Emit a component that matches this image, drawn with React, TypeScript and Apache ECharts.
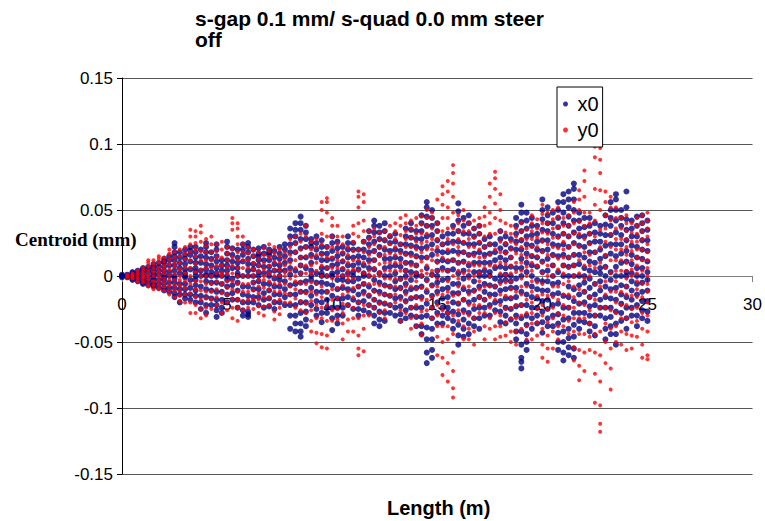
import React, { useEffect, useRef } from "react";
import * as echarts from "echarts";

const titleText = "s-gap 0.1 mm/ s-quad 0.0 mm steer\noff";
const yTickLabels = ["-0.15", "-0.1", "-0.05", "0", "0.05", "0.1", "0.15"];
const xTickLabels = ["0", "5", "10", "15", "20", "25", "30"];

// Column positions along the beamline (m)
const x0Positions = [
  0, 0.5, 1, 1.5, 2, 2.5, 3, 3.5, 4, 4.5, 5, 5.5, 6, 6.5, 7, 7.5, 8, 8.5, 9, 9.5,
  10, 10.5, 11, 11.5, 12, 12.5, 13, 13.5, 14, 14.5, 15, 15.5, 16, 16.5, 17, 17.5,
  18, 18.5, 19, 19.5, 20, 20.5, 21, 21.5, 22, 22.5, 23, 23.5, 24, 24.5, 25,
];
const x0PositionsB = [
  0.25, 0.75, 1.25, 1.75, 2.25, 2.75, 3.25, 3.75, 4.25, 4.75, 5.25, 5.75, 6.25,
  6.75, 7.25, 7.75, 8.25, 8.75, 9.25, 9.75, 10.25, 10.75, 11.25, 11.75, 12.25,
  12.75, 13.25, 13.75, 14.25, 14.75, 15.25, 15.75, 16.25, 16.75, 17.25, 17.75,
  18.25, 18.75, 19.25, 19.75, 20.25, 20.75, 21.25, 21.75, 22.25, 22.75, 23.25,
  23.75, 24.25, 24.75,
];
const y0Positions = x0PositionsB;
const y0PositionsB = [
  0.5, 1, 1.5, 2, 2.5, 3, 3.5, 4, 4.5, 5, 5.5, 6, 6.5, 7, 7.5, 8, 8.5, 9, 9.5,
  10, 10.5, 11, 11.5, 12, 12.5, 13, 13.5, 14, 14.5, 15, 15.5, 16, 16.5, 17, 17.5,
  18, 18.5, 19, 19.5, 20, 20.5, 21, 21.5, 22, 22.5, 23, 23.5, 24, 24.5, 25,
];

// Centroid values per column, in thousandths of a mm
const x0Milli = [
  [0, 1, -1, 0],
  [3, -3, 1, -1, 0, 2, -2],
  [6, -6, 4, -4, 2, -2, 0, 5, -5],
  [9, -8, 6, -6, 3, -3, 1, -1, 7, -7],
  [13, -11, 10, -9, 7, -6, 4, -3, 1, -1, 11],
  [25, 22, -16, 18, -13, 12, -9, 8, -5, 4, -2, 0, 15],
  [20, 16, -17, 13, -14, 9, -10, 5, -6, 2, -1, 0],
  [18, 14, -20, 10, -15, 6, -11, 3, -7, 0, -3, 22],
  [25, 22, 18, -28, 14, -22, 9, -16, 5, -10, 1, -4, 0],
  [24, 20, 15, -31, 11, -26, 6, -18, 2, -12, -5, 0, -22],
  [22, 17, 12, -20, 8, -14, 4, -8, 0, -3, 26],
  [14, 10, -24, 6, -18, 2, -11, -5, 0, 20],
  [25, 22, 18, -31, 13, -27, 9, -20, 4, -15, 0, -8, -29],
  [21, 17, -22, 12, -16, 8, -10, 3, -4, 0, 15],
  [20, 16, -23, 12, -17, 7, -11, 3, -6, 0, 18],
  [22, 17, -20, 13, -14, 8, -8, 4, -3, 0],
  [30, 24, -30, 18, -22, 12, -14, 6, -7, 1, 36, -40],
  [45, 40, 35, -46, 28, -42, 21, -36, 14, -28, 8, -20, 2, -12, -5],
  [28, 22, -22, 16, -15, 10, -9, 4, -3, 0, 25],
  [27, 22, 17, -35, 12, -28, 6, -20, 2, -12, -5, 0],
  [30, 25, 19, -41, 13, -32, 8, -24, 2, -15, -7, 0],
  [22, 17, -30, 11, -24, 5, -17, 0, -9, -3],
  [25, 20, 14, -25, 8, -18, 3, -11, -4, 0],
  [26, 20, -26, 14, -19, 8, -12, 2, -6, 0],
  [42, 38, 33, -36, 26, -30, 19, -24, 12, -18, 5, -11, -3],
  [40, 34, -34, 27, -28, 20, -21, 13, -14, 6, -7, 0],
  [32, 26, -30, 20, -24, 14, -17, 8, -10, 2, -4],
  [36, 30, -32, 24, -26, 17, -19, 10, -12, 4, -6, 0],
  [34, 28, -38, 22, -31, 15, -24, 8, -16, 2, -9, 0],
  [56, 52, 45, -66, 38, -58, 30, -48, 22, -39, 14, -30, 6, -21, -12, -3],
  [40, 34, -36, 27, -28, 19, -20, 11, -12, 4, -5, 0],
  [32, 25, -32, 18, -24, 11, -16, 4, -9, -2, -28],
  [55, 49, 42, -52, 34, -45, 26, -37, 18, -29, 10, -21, 2, -13, -6],
  [46, 40, -44, 32, -36, 24, -28, 16, -20, 8, -12, 0],
  [38, 32, -40, 25, -32, 18, -24, 10, -16, 3, -8, 0],
  [30, 24, -30, 17, -22, 10, -14, 3, -7, 0],
  [34, 28, -35, 21, -27, 14, -19, 7, -11, 0, -4],
  [28, 21, -33, 14, -25, 7, -17, 0, -9, -4],
  [54, 48, 41, -70, 34, -62, 27, -52, 20, -42, 13, -32, 6, -22, -12, 0, -65],
  [44, 38, -40, 31, -32, 23, -24, 15, -16, 8, -8, 0],
  [58, 50, 43, -43, 35, -35, 27, -27, 19, -19, 11, -11, 3, -4],
  [48, 40, -38, 32, -30, 24, -22, 16, -14, 8, -6, 0],
  [62, 56, 48, -64, 40, -58, 32, -50, 24, -42, 16, -33, 8, -24, 0, -15],
  [70, 66, 58, -62, 50, -55, 42, -46, 33, -37, 25, -28, 16, -19, 8, -10, 0],
  [44, 37, -35, 30, -28, 22, -20, 14, -12, 6, -5, 0],
  [40, 33, -45, 26, -38, 18, -30, 10, -22, 3, -14, -6],
  [46, 39, -48, 31, -40, 23, -32, 15, -24, 7, -16, 0, -8],
  [62, 58, 50, -52, 42, -44, 33, -36, 24, -27, 15, -18, 7, -9, 0],
  [64, 52, 43, -40, 35, -32, 27, -24, 19, -16, 11, -8, 3, 0],
  [45, 38, -38, 30, -30, 22, -22, 14, -14, 6, -6, 0],
  [42, 35, -34, 27, -27, 19, -19, 11, -11, 3, -3],
];

const x0MilliB = [
  [0, 1, -1],
  [4, -4, 2, -2, 0],
  [7, -7, 5, -5, 3, -3, 0],
  [10, -9, 7, -6, 4, -3, 1],
  [15, -12, 12, -9, 8, -5, 3, 0],
  [18, 14, -14, 10, -10, 6, -6, 2, -20],
  [22, 19, 16, -18, -14, 11, -9, 5, -3],
  [20, 15, 10, -25, -20, -15, 4, -8, 0],
  [18, 13, 8, -22, -17, -11, 3, -5, 0],
  [12, 8, 4, -28, -24, -18, -12, -6, 0],
  [21, 16, 11, 6, -18, -13, -7, -2],
  [24, 20, 16, 11, -30, -26, -20, -14, -8, 0],
  [20, 15, 9, 5, -20, -16, -10, -5, 0],
  [22, 17, 12, 7, -24, -18, -13, -6, 2],
  [19, 14, 9, 4, -25, -20, -14, -8, -2],
  [24, 20, 15, 10, -22, -16, -10, -4, 4],
  [40, 35, 30, 25, 18, -42, -36, -30, -22, -14, -6, 4],
  [38, 33, 28, 22, 14, -38, -33, -27, -20, -12, -4, 6],
  [30, 25, 20, 14, -30, -25, -19, -12, -5, 2],
  [22, 17, 12, 6, -28, -24, -18, -12, -6, 0],
  [26, 21, 15, 9, -36, -30, -24, -17, -10, -3, 3],
  [30, 25, 20, 14, 8, -22, -16, -10, -4, 2],
  [20, 15, 10, 5, -30, -25, -20, -14, -8, -2],
  [34, 29, 24, 18, 12, 6, -28, -22, -15, -8, 0],
  [38, 33, 28, 22, 16, -38, -33, -27, -20, -12, -5, 2],
  [30, 25, 19, 13, 7, -28, -22, -15, -8, 0],
  [24, 19, 13, 7, -34, -29, -23, -16, -9, -2],
  [40, 35, 29, 23, 17, 10, -30, -24, -17, -10, -3, 3],
  [46, 40, 34, 28, 21, 14, -44, -38, -31, -24, -16, -8, 0],
  [50, 44, 38, 31, 24, 16, -62, -56, -48, -40, -32, -24, -15, -7, 1],
  [30, 24, 18, 12, 6, -36, -30, -24, -17, -10, -3],
  [38, 32, 26, 19, 12, 5, -40, -34, -27, -20, -13, -6],
  [44, 38, 32, 25, 18, 11, -46, -40, -33, -26, -18, -10, -2, 4],
  [36, 30, 24, 17, 10, -38, -32, -25, -18, -11, -4, 3],
  [28, 22, 16, 10, 4, -30, -24, -18, -12, -6, 0],
  [24, 18, 12, 6, -26, -20, -14, -8, -2],
  [30, 24, 18, 12, 6, -36, -30, -24, -17, -10, -3, 1],
  [44, 38, 32, 26, 20, -48, -42, -36, -30, -23, -16, -9, -2, 6],
  [48, 42, 36, 30, 24, 17, -56, -50, -44, -37, -30, -22, -14, -6, 3, 10],
  [38, 32, 26, 20, 14, 7, -36, -30, -24, -17, -10, -3],
  [52, 46, 40, 34, 27, 20, 13, -38, -32, -25, -18, -11, -4, 4],
  [56, 50, 44, 37, 30, 23, 15, -56, -50, -43, -36, -29, -21, -13, -5, 3],
  [64, 58, 52, 45, 38, 30, 22, 14, -60, -54, -47, -40, -32, -24, -16, -8, 0, 7],
  [48, 42, 36, 30, 23, 16, 9, -40, -34, -28, -21, -14, -7, 0],
  [44, 38, 32, 25, 18, 11, -42, -36, -30, -23, -16, -9, -2, 4],
  [38, 32, 26, 20, 13, 6, -30, -24, -18, -11, -4, 2],
  [56, 50, 44, 38, 31, 24, 17, -44, -38, -31, -24, -17, -10, -3, 3],
  [50, 44, 38, 31, 24, 17, 10, -34, -28, -21, -14, -7, 0],
  [42, 36, 30, 23, 16, 9, -30, -24, -18, -11, -4, 2],
  [46, 40, 34, 27, 20, 13, 6, -32, -26, -19, -12, -5, 0],
];

const y0Milli = [
  [0, 1, -1],
  [4, -4, 2, -2, 0],
  [10, -8, 7, -6, 4, -3, 1, -1, 12],
  [13, -10, 10, -7, 6, -4, 3, -1, 0, 15],
  [17, -14, 13, -11, 9, -7, 5, -3, 1, 20],
  [20, -15, 15, -11, 10, -7, 5, -3, 0, -19],
  [30, 24, -28, 18, -20, 12, -13, 6, -6, 0, 35],
  [38, 33, -32, 26, -25, 19, -18, 12, -11, 5, -4, 0],
  [30, 24, -25, 18, -18, 12, -12, 6, -6, 0],
  [26, 20, -28, 14, -20, 8, -13, 2, -6, 0],
  [44, 40, 35, -32, 20, -24, 14, -17, 8, -10, 2, -4],
  [24, 18, -26, 12, -19, 6, -12, 0, -6, 30],
  [20, 15, -25, 10, -18, 5, -11, 0, -5],
  [21, 16, -30, 10, -23, 5, -16, 0, -9, -3],
  [22, 17, -27, 11, -19, 5, -12, 0, -6, -33],
  [18, 13, -20, 8, -13, 3, -6, 0],
  [30, 24, -24, 18, -17, 12, -10, 6, -4, 0],
  [38, 30, -28, 22, -21, 15, -13, 8, -6, 2],
  [28, 22, -43, 16, -32, 10, -22, 4, -14, -6, -51],
  [59, 56, 48, -55, 30, -45, 22, -34, 14, -22, 6, -12, 0],
  [30, 24, -33, 18, -25, 12, -17, 6, -9, 0, 38],
  [22, 16, -42, 10, -33, 4, -22, -3, -12, 0],
  [64, 60, 52, -60, 40, -55, 30, -45, 20, -32, 12, -20, 4, -8],
  [34, 28, -30, 22, -22, 16, -14, 10, -6, 4, 0],
  [33, 27, -28, 21, -21, 15, -14, 9, -7, 3, 0],
  [38, 31, -22, 24, -15, 17, -8, 10, -2, 4],
  [44, 38, -34, 31, -26, 24, -18, 17, -10, 10, -3, 4],
  [42, 36, -40, 29, -32, 22, -24, 15, -16, 8, -8, 1],
  [45, 39, -45, 32, -36, 25, -27, 18, -18, 11, -9, 4, 0],
  [48, 44, -32, 36, -24, 28, -16, 20, -8, 12, 0, 4],
  [68, 62, 54, -75, 44, -62, 34, -50, 24, -38, 14, -26, 4, -14],
  [84, 78, 70, -92, 60, -85, 48, -72, 36, -58, 24, -44, 12, -30, 0, -15],
  [50, 42, -48, 34, -38, 26, -28, 18, -18, 10, -8, 2],
  [42, 36, -52, 29, -42, 22, -32, 15, -22, 8, -12, 0],
  [52, 45, -48, 38, -38, 30, -28, 22, -18, 14, -8, 6],
  [79, 74, 66, -48, 55, -38, 44, -28, 32, -18, 20, -8, 8],
  [40, 33, -45, 25, -35, 17, -25, 9, -15, 1, -5],
  [36, 30, -52, 24, -42, 17, -32, 10, -22, 3, -12],
  [35, 28, -48, 21, -38, 14, -28, 7, -18, 0, -8],
  [43, 36, -45, 29, -35, 22, -25, 15, -15, 8, -5],
  [48, 40, -65, 32, -55, 24, -45, 16, -35, 8, -25, 0, -15],
  [52, 45, -48, 37, -38, 29, -28, 21, -18, 13, -8, 5],
  [46, 38, -44, 30, -34, 22, -24, 14, -14, 6, -4],
  [65, 58, -79, 50, -68, 41, -56, 32, -44, 22, -32, 12, -20, 2, -10],
  [48, 40, -56, 32, -46, 24, -36, 16, -26, 8, -16, 0],
  [100, 97, 88, -118, 78, -112, 65, -98, 50, -80, 35, -60, 22, -42, 10, -24, -8],
  [60, 52, -86, 42, -70, 32, -55, 22, -40, 12, -26, 2, -12],
  [44, 36, -52, 28, -42, 20, -32, 12, -22, 4, -12],
  [40, 33, -55, 26, -45, 19, -35, 12, -25, 5, -15, 0],
  [46, 40, -62, 34, -52, 28, -40, 20, -28, 12, -16, 4, -6],
];

const y0MilliB = [
  [2, -2, 0, 1, -1],
  [6, -5, 4, -3, 2, -1, 0],
  [12, 9, 6, 3, -4, -7, -10, 0],
  [14, 11, 8, 5, 2, -2, -5, -8, -11],
  [18, 14, 10, 7, 2, -3, -7, -11, -16],
  [22, 17, 13, 7, 2, -4, -9, -14, -20],
  [34, 30, 25, 20, 15, 9, 3, -4, -10, -16, -22, -28],
  [28, 23, 18, 12, 6, 0, -6, -12, -17, -24, -30],
  [24, 19, 14, 8, 2, -4, -10, -16, -22],
  [22, 17, 12, 7, 2, -4, -9, -14, -20, -26],
  [40, 36, 30, 24, 18, 12, 6, 0, -6, -12, -18, -24, -34],
  [22, 17, 12, 6, 0, -6, -12, -18, -24],
  [18, 13, 8, 3, -3, -8, -13, -18, -23, -28],
  [24, 19, 14, 8, 2, -4, -10, -16, -22],
  [20, 15, 10, 5, 0, -6, -12, -18, -24, -29],
  [28, 22, 16, 10, 4, -2, -8, -14, -20],
  [32, 26, 20, 14, 8, 2, -5, -12, -19, -26],
  [26, 20, 14, 8, 2, -5, -12, -19, -26, -34, -42],
  [56, 50, 42, 32, 24, 16, 8, 0, -8, -16, -24, -32, -44, -54],
  [44, 38, 30, 22, 14, 6, -2, -10, -18, -26, -34],
  [30, 24, 18, 12, 6, 0, -7, -14, -21, -28, -36, -48],
  [38, 32, 26, 19, 12, 5, -2, -9, -16, -24, -32, -42],
  [62, 56, 42, 34, 26, 18, 10, 2, -6, -14, -22, -30, -40, -57],
  [36, 30, 24, 18, 12, 6, 0, -6, -12, -18, -24],
  [34, 28, 22, 16, 10, 4, -2, -8, -14, -20, -26, -32],
  [40, 34, 28, 22, 16, 10, 4, -2, -8, -14, -20],
  [46, 40, 34, 28, 22, 16, 10, 4, -2, -8, -14, -20, -28],
  [44, 38, 32, 26, 20, 14, 8, 2, -4, -10, -16, -22, -30, -38],
  [50, 44, 38, 32, 26, 20, 14, 8, 2, -4, -10, -18, -26],
  [58, 40, 34, 28, 22, 16, 10, 4, -2, -8, -14, -22, -30, -38, -46, -60],
  [72, 64, 52, 44, 36, 28, 20, 12, 4, -4, -12, -20, -28, -38, -48, -66, -80],
  [46, 40, 34, 28, 22, 16, 10, 4, -2, -8, -14, -20, -26, -34],
  [40, 34, 28, 22, 16, 10, 4, -2, -8, -14, -22, -30, -40, -48],
  [44, 38, 32, 26, 20, 14, 8, 2, -4, -10, -16, -22, -28],
  [70, 60, 48, 40, 32, 24, 16, 8, 0, -8, -16, -24, -32, -40],
  [62, 50, 42, 34, 26, 18, 10, 2, -6, -14, -22, -30, -38, -46],
  [38, 32, 26, 20, 14, 8, 2, -4, -10, -16, -24, -32, -42, -50],
  [40, 34, 28, 22, 16, 10, 4, -2, -8, -14, -22, -30, -40],
  [46, 40, 34, 28, 22, 16, 10, 4, -4, -12, -20, -28, -36, -48],
  [54, 47, 40, 33, 26, 18, 10, 2, -6, -14, -22, -30, -40, -52, -62],
  [50, 43, 36, 29, 22, 15, 8, 0, -8, -16, -24, -32, -42, -55],
  [44, 38, 32, 26, 20, 14, 8, 2, -6, -14, -22, -30, -38],
  [56, 48, 40, 32, 24, 16, 8, 0, -8, -16, -24, -32, -42, -54, -64],
  [80, 72, 60, 48, 38, 28, 18, 8, -2, -12, -22, -32, -44, -58, -72],
  [98, 90, 66, 54, 42, 30, 18, 6, -6, -18, -30, -44, -58, -74, -96],
  [64, 56, 46, 36, 26, 16, 6, -4, -14, -24, -36, -50, -66],
  [52, 44, 36, 28, 20, 12, 4, -4, -12, -20, -28, -38, -50],
  [46, 40, 34, 28, 22, 16, 10, 4, -2, -8, -14, -22, -32, -44, -56],
  [44, 38, 32, 26, 20, 14, 8, 2, -4, -10, -16, -24, -34, -46],
  [48, 42, 36, 30, 24, 18, 12, 6, 0, -6, -12, -20, -30, -42, -60, -63],
];

function toPoints(positions: number[], cols: number[][]): number[][] {
  const pts: number[][] = [];
  cols.forEach((col, i) => {
    col.forEach((v) => pts.push([positions[i], v / 1000]));
  });
  return pts;
}

export default function App() {
  const ref = useRef<HTMLDivElement>(null);
  useEffect(() => {
    if (!ref.current) return;
    const chart = echarts.init(ref.current, null, { renderer: "svg" });
    const sans = "Arial, 'Liberation Sans', sans-serif";
    chart.setOption({
      animation: false,
      backgroundColor: "#ffffff",
      title: {
        text: titleText,
        left: 195,
        top: 8,
        padding: 0,
        textStyle: {
          fontFamily: sans,
          fontWeight: "bold",
          fontSize: 21,
          lineHeight: 21,
          color: "#000",
        },
      },
      legend: {
        orient: "vertical",
        left: 557,
        top: 87,
        padding: [7, 4, 7, 6],
        itemGap: 6,
        itemWidth: 14,
        itemHeight: 5,
        icon: "circle",
        backgroundColor: "#ffffff",
        borderColor: "#000",
        borderWidth: 1,
        borderRadius: 0,
        textStyle: { fontFamily: sans, fontSize: 20, color: "#000" },
        data: ["x0", "y0"],
      },
      grid: { left: 122, right: 8, top: 78, bottom: 47, containLabel: false },
      xAxis: {
        type: "value",
        min: 0,
        max: 30,
        interval: 5,
        position: "bottom",
        offset: -198,
        axisLine: { onZero: false, lineStyle: { color: "#808080", width: 1 } },
        axisTick: { show: true, length: 6, lineStyle: { color: "#808080" } },
        axisLabel: {
          margin: 20,
          fontFamily: sans,
          fontSize: 17,
          color: "#000",
          formatter: (v: number) => xTickLabels[Math.round(v / 5)] ?? "",
        },
        splitLine: { show: false },
      },
      yAxis: {
        type: "value",
        min: -0.15,
        max: 0.15,
        interval: 0.05,
        axisLine: { show: true, onZero: false, lineStyle: { color: "#000", width: 1 } },
        axisTick: { show: true, length: 5, lineStyle: { color: "#000" } },
        axisLabel: {
          margin: 9,
          fontFamily: sans,
          fontSize: 17,
          color: "#000",
          formatter: (v: number) => yTickLabels[Math.round(v / 0.05) + 3] ?? "",
        },
        splitLine: { show: true, lineStyle: { color: "#555", width: 1 } },
      },
      graphic: [
        {
          type: "text",
          left: 15,
          top: 230,
          style: {
            text: "Centroid (mm)",
            font: "bold 19px 'Liberation Serif', 'Times New Roman', serif",
            fill: "#000",
          },
        },
        {
          type: "text",
          left: 387,
          top: 498,
          style: {
            text: "Length (m)",
            font: "bold 20px Arial, 'Liberation Sans', sans-serif",
            fill: "#000",
          },
        },
      ],
      series: [
        {
          name: "x0",
          type: "scatter",
          symbol: "circle",
          symbolSize: 6,
          itemStyle: { color: "#000080" },
          data: toPoints(x0Positions, x0Milli).concat(toPoints(x0PositionsB, x0MilliB)),
        },
        {
          name: "y0",
          type: "scatter",
          symbol: "circle",
          symbolSize: 4,
          itemStyle: { color: "#ff0000" },
          data: toPoints(y0Positions, y0Milli).concat(toPoints(y0PositionsB, y0MilliB)),
        },
      ],
    });
    return () => chart.dispose();
  }, []);
  return (
    <div
      ref={ref}
      style={{ position: "absolute", left: 0, top: 0, width: 765, height: 521 }}
    />
  );
}
